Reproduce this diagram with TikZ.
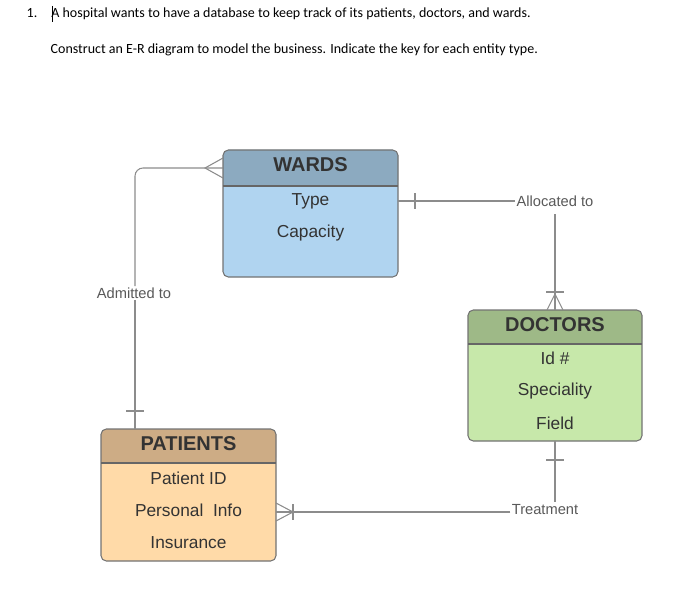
\documentclass[tikz,border=0pt]{standalone}
\usepackage{fontspec}
\setmainfont{Liberation Sans}
\newfontfamily\qfont{Carlito}
\begin{document}
\begin{tikzpicture}[x=0.75pt,y=-0.75pt,
  hdr/.style={font=\bfseries\fontsize{15}{17}\selectfont,text=black!80},
  att/.style={font=\fontsize{13}{15}\selectfont,text=black!80},
  lbl/.style={font=\fontsize{11}{13}\selectfont,text=black!65,fill=white,inner sep=1pt},
  ln/.style={draw=black!45,line width=0.8pt},
  box/.style={draw=black!55,line width=0.8pt,rounded corners=4pt}]
\useasboundingbox (0,0) rectangle (673,595);
\node[anchor=west,font=\qfont\fontsize{10.5}{12}\selectfont] (q1) at (22,14) {1.\quad A hospital wants to have a database to keep track of its patients, doctors, and wards.};
\draw[black] (52.5,6) -- (52.5,22);
\node[anchor=west,font=\qfont\fontsize{10.5}{12}\selectfont] (q2) at (46,50) {Construct an E-R diagram to model the business. Indicate the key for each entity type.};
% WARDS
\fill[fill={rgb,255:red,176;green,212;blue,240},rounded corners=4pt] (223,150) rectangle (398,277);
\fill[fill={rgb,255:red,140;green,170;blue,192},rounded corners=4pt] (223,150) rectangle (398,186);
\fill[fill={rgb,255:red,140;green,170;blue,192}] (223,175) rectangle (398,186);
\draw[box] (223,150) rectangle (398,277);
\draw[ln,draw=black!60] (223,186) -- (398,186);
\node[hdr] (wards) at (310.5,165) {WARDS};
\node[att] (w1) at (310.5,201) {Type};
\node[att] (w2) at (310.5,233) {Capacity};
% DOCTORS
\fill[fill={rgb,255:red,199;green,232;blue,170},rounded corners=4pt] (468,310) rectangle (642,441);
\fill[fill={rgb,255:red,158;green,185;blue,135},rounded corners=4pt] (468,310) rectangle (642,344);
\fill[fill={rgb,255:red,158;green,185;blue,135}] (468,333) rectangle (642,344);
\draw[box] (468,310) rectangle (642,441);
\draw[ln,draw=black!60] (468,344) -- (642,344);
\node[hdr] (doc) at (555,325) {DOCTORS};
\node[att] (d1) at (555,358) {Id \#};
\node[att] (d2) at (555,391) {Speciality};
\node[att] (d3) at (555,423) {Field};
% PATIENTS
\fill[fill={rgb,255:red,255;green,218;blue,168},rounded corners=4pt] (101,429) rectangle (276,561);
\fill[fill={rgb,255:red,205;green,172;blue,133},rounded corners=4pt] (101,429) rectangle (276,463);
\fill[fill={rgb,255:red,205;green,172;blue,133}] (101,452) rectangle (276,463);
\draw[box] (101,429) rectangle (276,561);
\draw[ln,draw=black!60] (101,463) -- (276,463);
\node[hdr] (pat) at (188.5,444) {PATIENTS};
\node[att] (p1) at (188.5,478) {Patient ID};
\node[att] (p2) at (188.5,510) {Personal\ \ Info};
\node[att] (p3) at (188.5,543) {Insurance};
% Admitted to
\node[lbl] (adm) at (134,293) {Admitted to};
\draw[ln,rounded corners=6pt] (223,168) -- (135,168) -- (adm.north-|135,0);
\draw[ln] (223,158) -- (205,168) -- (223,178);
\draw[ln] (adm.south-|135,0) -- (135,429);
\draw[ln] (126,411) -- (144,411);
% Allocated to
\node[lbl] (all) at (555,201) {Allocated to};
\draw[ln] (398,201) -- (all.west);
\draw[ln] (415,193) -- (415,209);
\draw[ln] (555,214) -- (555,310);
\draw[ln] (546,292) -- (564,292);
\draw[ln] (547,310) -- (555,294) -- (563,310);
% Treatment
\node[lbl] (trt) at (545,510) {Treatment};
\draw[ln] (555,441) -- (555,502);
\draw[ln] (546,460) -- (564,460);
\draw[ln] (trt.west|-0,512) -- (276,512);
\draw[ln] (293,504) -- (293,520);
\draw[ln] (276,503) -- (293,512) -- (276,521);
\end{tikzpicture}
\end{document}
